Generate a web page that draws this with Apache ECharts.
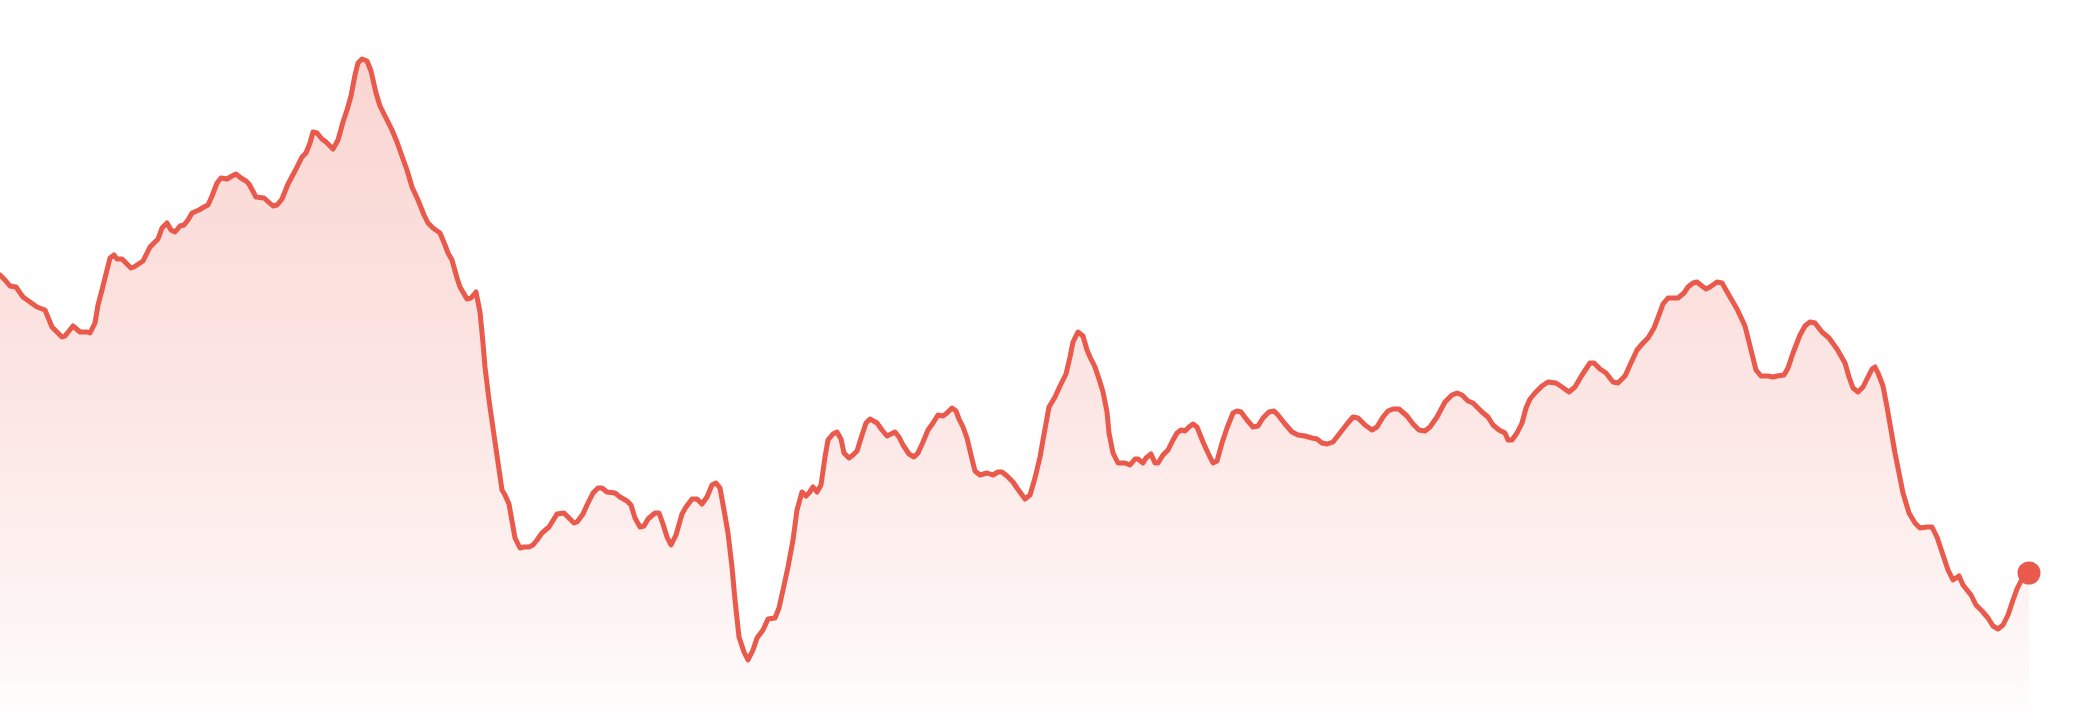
<!DOCTYPE html>
<html>
<head>
<meta charset="utf-8">
<script src="https://cdn.jsdelivr.net/npm/echarts@6/dist/echarts.min.js"></script>
<style>
  html, body { margin: 0; padding: 0; background: #fff; }
  #chart { width: 2080px; height: 720px; }
</style>
</head>
<body>
<div id="chart"></div>
<script>
// readings, split into four stretches
const dayA = [0,5,10,16,23,30,37,45,52,62, 65,73,80,87,90,95,98,102,107,110,
  114,117,122,126,131,134,143,150,158,162, 167,171,175,180,184,188,192,199,204,208,
  212,217,221,227,232,236,241,246,249,256, 264,273,277,282,288,295,302,306,310,313,
  317,322,326,333,338,343,347,351,355,358, 362,367,371,376,380,386,392,397,403,407,
  412,418,424,428,433,440,445,448,452,457, 460,467,471,476,480,483,485,489,494];
const closeA = [445,440,434,433,423,418,413,410,393,383, 384,394,388,388,387,397,415,430,450,462,
  465,461,461,457,452,453,459,473,481,492, 497,490,488,494,495,500,507,510,513,515,
  524,537,542,541,544,546,542,539,536,523, 522,514,515,521,536,549,563,567,577,588,
  587,581,578,571,580,598,610,624,645,657, 661,659,649,627,614,602,590,578,561,550,
  533,520,505,497,492,487,475,467,460,442, 433,421,422,428,408,377,353,320,285];

const dayB = [502,505,509,515,520,524,529,533,537,542, 549,557,564,574,577,583,587,593,598,602,
  607,615,620,627,631,635,640,644,648,655, 659,663,667,671,676,682,686,692,697,702,
  707,712,716,720,724,728,732,735,739,744, 748,753,757,763,768,775,779,783,788,793,
  797,802,806,809,813,817,821,825,828,833, 837,841,844,849,853,857,862,866,870,877,
  882,887,895,899,903,909,914,918,923,928, 933,938,943,947,952,956,959,963,967,971,
  975,980,987,993,998,1002,1007,1013];
const closeB = [230,225,216,182,172,173,173,175,180,187, 193,206,207,197,198,206,215,227,232,232,
  228,227,223,219,215,202,193,194,201,207, 207,196,183,175,185,206,213,221,221,216,
  223,235,237,232,210,187,153,120,83,68, 60,70,82,90,101,102,112,130,153,180,
  210,228,224,227,233,228,235,263,280,286, 288,281,267,262,265,269,285,297,301,297,
  290,284,288,283,275,266,263,267,278,290, 297,305,304,307,312,309,301,293,282,265,
  249,245,247,245,248,248,244,238];

const dayC = [1017,1025,1030,1035,1040,1043,1047,1049,1055,1060, 1066,1070,1073,1078,1083,1087,1090,1095,1100,1103,
  1107,1109,1113,1118,1125,1130,1135,1138,1143,1146, 1151,1155,1158,1163,1168,1173,1177,1181,1185,1189,
  1193,1197,1203,1208,1213,1217,1222,1227,1233,1237, 1241,1247,1253,1258,1263,1269,1274,1278,1285,1292,
  1298,1305,1312,1317,1322,1327,1333,1340,1347,1353, 1358,1365,1372,1377,1383,1388,1393,1399,1407,1413,
  1419,1425,1430,1437,1445,1452,1457,1462,1468,1473, 1482,1488,1493,1499,1505,1508,1512];
const closeC = [232,221,225,242,263,280,302,313,323,334, 346,363,378,388,384,370,363,353,338,328,
  308,287,267,257,257,255,261,261,257,262, 266,257,257,265,270,280,287,290,289,293,
  296,293,278,267,257,259,277,292,307,309, 308,300,293,294,302,308,309,305,296,288,
  285,284,282,281,277,276,278,287,296,303, 302,295,290,293,303,309,311,311,304,296,
  290,289,293,303,318,325,327,325,319,317, 308,303,295,290,287,280,280];

const dayD = [1517,1522,1526,1530,1535,1542,1548,1556,1562,1569, 1575,1582,1590,1594,1600,1606,1613,1618,1625,1630,
  1637,1643,1648,1654,1659,1663,1668,1673,1678,1684, 1688,1693,1697,1702,1706,1710,1717,1722,1730,1737,
  1745,1750,1756,1761,1768,1773,1777,1784,1788,1793, 1800,1805,1810,1815,1822,1829,1837,1845,1849,1853,
  1858,1863,1868,1872,1875,1878,1883,1887,1891,1895, 1900,1903,1909,1915,1920,1927,1932,1937,1942,1948,
  1953,1959,1963,1971,1976,1982,1988,1993,1998,2003, 2008,2013,2017,2022,2029];
const closeD = [287,297,312,321,327,334,338,337,333,328, 333,345,357,357,351,347,338,337,344,355,
  370,377,382,392,405,416,422,422,422,427, 433,437,438,434,431,433,438,437,423,411,
  394,374,350,344,344,343,344,345,352,367, 385,394,398,397,388,382,371,357,343,332,
  328,333,343,351,353,347,334,313,290,267, 242,227,207,197,192,193,193,183,168,150,
  140,144,135,125,115,109,102,94,91,95, 105,120,131,141,147];

const days = [...dayA, ...dayB, ...dayC, ...dayD];
const closes = [...closeA, ...closeB, ...closeC, ...closeD];
const series = days.map((d, i) => [d, closes[i]]);
const last = series[series.length - 1];

const lineColor = '#e95a4c';

const chart = echarts.init(document.getElementById('chart'), null, { renderer: 'canvas' });
chart.setOption({
  animation: false,
  backgroundColor: '#ffffff',
  grid: { left: 0, right: 51, top: 0, bottom: 0 },
  xAxis: { type: 'value', min: 0, max: last[0], show: false },
  yAxis: { type: 'value', min: 0, max: 720, show: false },
  series: [
    {
      type: 'line',
      data: series,
      showSymbol: false,
      lineStyle: { color: lineColor, width: 5, join: 'round', cap: 'round' },
      areaStyle: {
        color: new echarts.graphic.LinearGradient(0, 0, 0, 1, [
          { offset: 0, color: 'rgba(233,90,76,0.36)' },
          { offset: 0.5, color: 'rgba(233,90,76,0.22)' },
          { offset: 0.85, color: 'rgba(233,90,76,0.09)' },
          { offset: 1, color: 'rgba(233,90,76,0.01)' }
        ])
      }
    },
    {
      type: 'scatter',
      data: [last],
      symbolSize: 23,
      itemStyle: { color: lineColor, opacity: 1 },
      clip: false
    }
  ]
});
</script>
</body>
</html>
